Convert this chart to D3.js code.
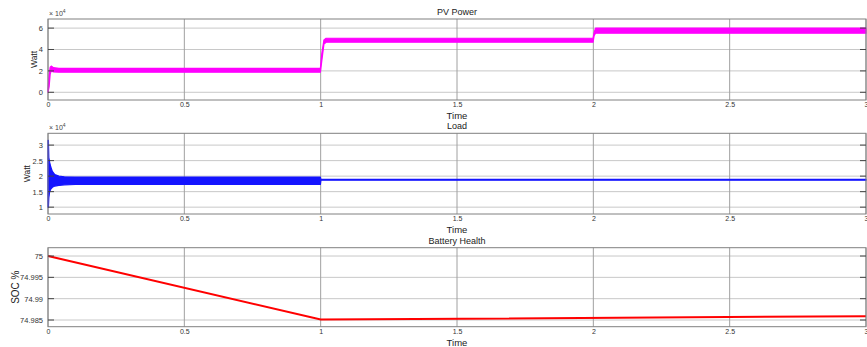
<!DOCTYPE html>
<html>
<head>
<meta charset="utf-8">
<script src="https://cdn.jsdelivr.net/npm/d3@7"></script>
<style>
  html, body { margin: 0; padding: 0; background: #fff; }
  svg { display: block; font-family: "Liberation Sans", Arial, sans-serif; }
</style>
</head>
<body>
<svg id="chart" width="867" height="347"></svg>
<script>
// Shared time axis
const timeTicks = [0, 0.5, 1, 1.5, 2, 2.5, 3];

// PV power (x10^4 W): envelope of the rippled trace
const pvTime = [0, 0.004, 0.008, 0.012, 0.02, 0.04, 0.999, 1.004, 1.012, 1.02, 1.999, 2.003, 2.008, 3];
const pvHigh = [0.2, 1.6, 2.35, 2.45, 2.3, 2.24, 2.24, 3.6, 4.9, 5.05, 5.05, 5.6, 6.0, 6.0];
const pvLow  = [0.0, 0.5, 1.7, 2.0, 1.9, 1.88, 1.88, 2.9, 4.5, 4.68, 4.68, 5.3, 5.52, 5.52];
const pvTicks = [0, 2, 4, 6];

// Load (x10^4 W): envelope of the oscillating trace
const loadTime = [0, 0.0015, 0.003, 0.006, 0.01, 0.016, 0.025, 0.04, 0.06, 0.1, 0.5, 0.999, 1.001, 3];
const loadHigh = [3.15, 3.15, 2.6, 2.45, 2.3, 2.15, 2.05, 2.0, 1.98, 1.97, 1.97, 1.97, 1.895, 1.895];
const loadLow  = [1.0, 1.0, 1.3, 1.5, 1.58, 1.64, 1.68, 1.7, 1.72, 1.73, 1.73, 1.73, 1.87, 1.87];
const loadTicks = [1, 1.5, 2, 2.5, 3];

// Battery state of charge (%)
const socTime  = [0, 1, 3];
const socValue = [75, 74.9851, 74.9859];
const socTicks = [74.985, 74.99, 74.995, 75];

const svg = d3.select("#chart");
const x = d3.scaleLinear().domain([0, 3]).range([48, 866]);

function panel(opts) {
  const g = svg.append("g");
  const y = d3.scaleLinear().domain(opts.domain).range([opts.bottom, opts.top]);
  const [x0, x1] = x.range();

  // horizontal grid
  g.selectAll(".hg").data(opts.yTicks).join("line")
    .attr("x1", x0).attr("x2", x1)
    .attr("y1", d => y(d)).attr("y2", d => y(d))
    .attr("stroke", "#c8c8c8").attr("stroke-width", 1);
  // vertical grid
  g.selectAll(".vg").data(timeTicks).join("line")
    .attr("x1", d => x(d)).attr("x2", d => x(d))
    .attr("y1", opts.top).attr("y2", opts.bottom)
    .attr("stroke", "#a0a0a0").attr("stroke-width", 1);

  // data
  opts.draw(g, y);

  // frame
  g.append("rect").attr("x", x0).attr("y", opts.top)
    .attr("width", x1 - x0).attr("height", opts.bottom - opts.top)
    .attr("fill", "none").attr("stroke", "#808080").attr("stroke-width", 1);

  // inward ticks on left and right
  g.selectAll(".lt").data(opts.yTicks).join("line")
    .attr("x1", x0).attr("x2", x0 + 6)
    .attr("y1", d => y(d)).attr("y2", d => y(d))
    .attr("stroke", "#444");
  g.selectAll(".rt").data(opts.yTicks).join("line")
    .attr("x1", x1 - 6).attr("x2", x1)
    .attr("y1", d => y(d)).attr("y2", d => y(d))
    .attr("stroke", "#444");

  // y tick labels
  const ya = d3.axisLeft(y).tickValues(opts.yTicks).tickSize(0).tickPadding(5)
    .tickFormat(d3.format(opts.yFormat));
  const yg = g.append("g").attr("transform", `translate(${x0},0)`).call(ya);
  yg.select(".domain").remove();
  yg.selectAll("text").attr("font-size", 7.5).attr("fill", "#333")
    .attr("font-family", "Liberation Sans, Arial, sans-serif");

  // x tick labels
  const xa = d3.axisBottom(x).tickValues(timeTicks).tickSize(0).tickPadding(2)
    .tickFormat(d3.format("~g"));
  const xg = g.append("g").attr("transform", `translate(0,${opts.bottom})`).call(xa);
  xg.select(".domain").remove();
  xg.selectAll("text").attr("font-size", 7).attr("fill", "#333")
    .attr("font-family", "Liberation Sans, Arial, sans-serif");

  // title and axis labels
  g.append("text").attr("x", 457).attr("y", opts.top - 4)
    .attr("text-anchor", "middle").attr("font-size", 9).attr("fill", "#222")
    .text(opts.title);
  g.append("text").attr("x", 457).attr("y", opts.bottom + 19)
    .attr("text-anchor", "middle").attr("font-size", 9.5).attr("fill", "#222")
    .text("Time");
  const cy = (opts.top + opts.bottom) / 2;
  g.append("text").attr("transform", `translate(${opts.ylabelX},${cy}) rotate(-90)`)
    .attr("text-anchor", "middle").attr("font-size", opts.ylabelSize).attr("fill", "#222")
    .text(opts.ylabel);

  if (opts.exponent) {
    const t = g.append("text").attr("x", x0 + 1).attr("y", opts.top - 3)
      .attr("font-size", 7).attr("fill", "#444");
    t.append("tspan").text("\u00d7 10");
    t.append("tspan").attr("dy", -3).attr("font-size", 5).text("4");
  }
}

function band(g, y, t, hi, lo, color) {
  const data = t.map((d, i) => ({ t: d, hi: hi[i], lo: lo[i] }));
  g.append("path").datum(data)
    .attr("d", d3.area().x(d => x(d.t)).y0(d => y(d.lo)).y1(d => y(d.hi)))
    .attr("fill", color).attr("stroke", color).attr("stroke-width", 1.2)
    .attr("stroke-linejoin", "round");
}

panel({
  top: 19, bottom: 100, domain: [-0.72, 6.85], yTicks: pvTicks, yFormat: "~g",
  title: "PV Power", ylabel: "Watt", ylabelX: 37, ylabelSize: 8.5, exponent: true,
  draw: (g, y) => band(g, y, pvTime, pvHigh, pvLow, "#ff00ff")
});

panel({
  top: 133.3, bottom: 214, domain: [0.78, 3.38], yTicks: loadTicks, yFormat: "~g",
  title: "Load", ylabel: "Watt", ylabelX: 30, ylabelSize: 8.5, exponent: true,
  draw: (g, y) => band(g, y, loadTime, loadHigh, loadLow, "#1414ff")
});

panel({
  top: 247.7, bottom: 326.7, domain: [74.98343, 75.00195], yTicks: socTicks, yFormat: "~g",
  title: "Battery Health", ylabel: "SOC %", ylabelX: 19, ylabelSize: 10, exponent: false,
  draw: (g, y) => {
    const data = socTime.map((d, i) => ({ t: d, v: socValue[i] }));
    g.append("path").datum(data)
      .attr("d", d3.line().x(d => x(d.t)).y(d => y(d.v)))
      .attr("fill", "none").attr("stroke", "#ff0000").attr("stroke-width", 2);
  }
});
</script>
</body>
</html>
